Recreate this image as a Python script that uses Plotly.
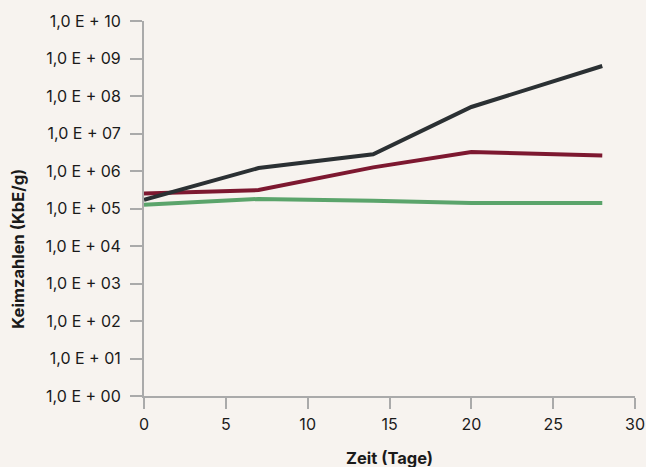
import plotly.graph_objects as go

days = [0, 7, 14, 20, 28]
series_black = [1.7e5, 1.2e6, 2.8e6, 5.1e7, 6.3e8]
series_red = [2.5e5, 3.1e5, 1.25e6, 3.2e6, 2.6e6]
series_green = [1.26e5, 1.8e5, 1.6e5, 1.4e5, 1.4e5]

y_tickvals = [10 ** i for i in range(0, 11)]
y_ticktext = ["1,0 E + %02d" % i for i in range(0, 11)]
x_tickvals = [0, 5, 10, 15, 20, 25, 30]

x_title = "Zeit (Tage)"
y_title = "Keimzahlen (KbE/g)"

bg = "#f7f3ef"
axis_col = "#aaaaaa"
font_fam = "Inter, Lato, sans-serif"

fig = go.Figure()
fig.add_trace(go.Scatter(x=days, y=series_green, mode="lines",
                         line=dict(color="#5ba46b", width=4), showlegend=False))
fig.add_trace(go.Scatter(x=days, y=series_red, mode="lines",
                         line=dict(color="#7d1830", width=4), showlegend=False))
fig.add_trace(go.Scatter(x=days, y=series_black, mode="lines",
                         line=dict(color="#2b3033", width=4), showlegend=False))

fig.update_layout(
    width=646, height=467,
    margin=dict(l=144, r=11, t=21, b=71),
    paper_bgcolor=bg, plot_bgcolor=bg,
    font=dict(family=font_fam, size=16, color="#1a1a1a"),
    xaxis=dict(
        range=[0, 30], tickvals=x_tickvals, ticktext=[str(v) for v in x_tickvals],
        showgrid=False, zeroline=False, showline=True, linecolor=axis_col, linewidth=2,
        ticks="outside", ticklen=11, tickwidth=2, tickcolor=axis_col,
        tickfont=dict(size=16), ticklabelstandoff=2, automargin=False,
    ),
    yaxis=dict(
        type="log", range=[0, 10], tickvals=y_tickvals, ticktext=y_ticktext,
        showgrid=False, zeroline=False, showline=True, linecolor=axis_col, linewidth=2,
        ticks="outside", ticklen=12, tickwidth=2, tickcolor=axis_col,
        tickfont=dict(size=16), ticklabelstandoff=6, automargin=False,
    ),
    annotations=[
        dict(text="<b>%s</b>" % x_title, xref="paper", yref="paper",
             x=0.501, y=-0.165, showarrow=False, xanchor="center", yanchor="middle",
             font=dict(size=16.5)),
        dict(text="<b>%s</b>" % y_title, xref="paper", yref="paper",
             x=-0.2566, y=0.393, showarrow=False, xanchor="center", yanchor="middle",
             textangle=-90, font=dict(size=16.5)),
    ],
)

fig.write_html("out.html", config={"displayModeBar": False},
               post_script="document.body.style.margin='0';document.body.style.overflow='hidden';")
